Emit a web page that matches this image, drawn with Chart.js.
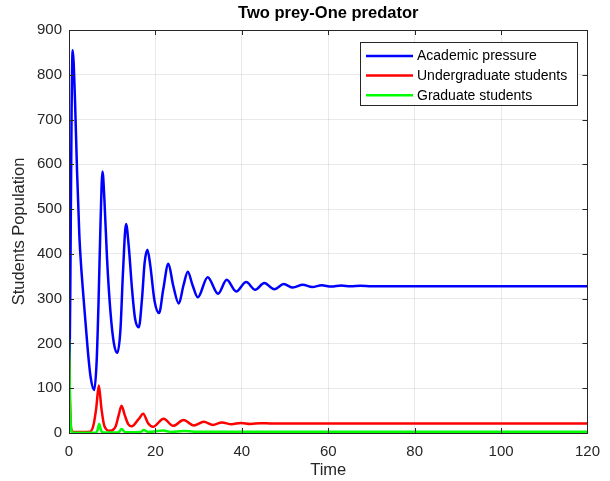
<!DOCTYPE html>
<html>
<head>
<meta charset="utf-8">
<script src="https://cdn.jsdelivr.net/npm/chart.js@4.4.1/dist/chart.umd.min.js"></script>
<style>
    html, body { margin: 0; padding: 0; background: #fff; }
    #wrap { width: 610px; height: 481px; }
</style>
</head>
<body>
<div id="wrap"><canvas id="chart" width="610" height="481"></canvas></div>
<script>
// values (time, population)
const academicTime = [0, 0.3, 0.6, 0.85, 1.4, 1.85, 2.4, 3.4, 4.3, 5.0, 5.84, 6.4, 6.85, 7.3, 7.75, 8.2, 8.8, 9.6, 10.4, 11.2,
    11.9, 12.5, 13.2, 13.8, 14.6, 15.3, 16.15, 16.9, 17.5, 18.15, 18.8, 19.8, 20.85, 21.8, 23, 24.1, 25.4, 26.5, 27.5, 28.6,
    29.8, 32.1, 34.5, 36.5, 38.7, 41, 43.1, 45.2, 47.5, 49.7, 51.8, 54.1, 56.3, 58.5, 60.7, 63, 65.2, 67.5, 70, 120];
const academicPressure = [20, 320, 720, 855, 740, 588, 440, 297, 190, 125, 96, 160, 297, 470, 584, 520, 390, 270, 200, 179,
    230, 360, 467, 420, 320, 255, 236, 300, 380, 409, 375, 295, 268, 320, 378, 330, 289, 330, 360, 330,
    303, 348, 311, 342, 316, 337, 320, 335, 321, 332.5, 325, 331, 326, 330, 327, 329.5, 327.5, 329, 328, 328];

const undergradTime = [0, 0.2, 0.5, 1, 4.8, 5.6, 6.3, 6.9, 7.5, 8.2, 9.5, 10.8, 11.5, 12.15, 12.9, 13.7, 14.5, 16.2, 17.15,
    18.3, 19.45, 21.9, 24.1, 26.5, 28.9, 31.2, 33.3, 35.4, 37.6, 39.8, 42, 44.3, 47, 120];
const undergradStudents = [175, 80, 10, 2, 3, 15, 55, 106, 55, 15, 5, 15, 40, 61, 40, 20, 15, 32, 43,
    22, 14, 32, 16, 29, 17, 25, 18, 23.7, 19.5, 22.5, 20.3, 22, 21, 21];

const gradTime = [0, 0.25, 0.6, 1, 6.2, 6.6, 7.0, 7.4, 7.9, 11.4, 12.2, 13, 16.5, 17.3, 18.3, 21.9, 23.5, 26.6, 29, 120];
const gradStudents = [210, 60, 3, 0.5, 0.5, 6, 20, 6, 1, 1, 9, 1.5, 2, 6.5, 2, 5.5, 2.5, 4.5, 3, 3];

const seriesLabels = ['Academic pressure', 'Undergraduate students', 'Graduate students'];
const seriesColors = ['#0000ff', '#ff0000', '#00ff00'];
const xTicks = [0, 20, 40, 60, 80, 100, 120];
const yTicks = [0, 100, 200, 300, 400, 500, 600, 700, 800, 900];
const chartTitle = 'Two prey-One predator';

const FONT = "'Liberation Sans', Arial, Helvetica, sans-serif";
const AXIS_COLOR = '#262626';
const GRID_COLOR = 'rgba(38,38,38,0.1)';

const toPoints = (xs, ys) => xs.map((x, i) => ({ x: x, y: ys[i] }));

// MATLAB style box with inward ticks, title over the axes, legend inside
const boxPlugin = {
    id: 'boxPlugin',
    afterDraw(chart) {
        const { ctx, chartArea: a, scales } = chart;
        const len = 5;
        ctx.save();
        ctx.strokeStyle = AXIS_COLOR;
        ctx.lineWidth = 1;
        ctx.beginPath();
        xTicks.forEach(t => {
            const px = Math.round(scales.x.getPixelForValue(t)) + 0.5;
            ctx.moveTo(px, a.bottom); ctx.lineTo(px, a.bottom - len);
            ctx.moveTo(px, a.top); ctx.lineTo(px, a.top + len);
        });
        yTicks.forEach(t => {
            const py = Math.round(scales.y.getPixelForValue(t)) + 0.5;
            ctx.moveTo(a.left, py); ctx.lineTo(a.left + len, py);
            ctx.moveTo(a.right, py); ctx.lineTo(a.right - len, py);
        });
        ctx.stroke();
        ctx.strokeRect(Math.round(a.left) + 0.5, Math.round(a.top) + 0.5,
            Math.round(a.right - a.left), Math.round(a.bottom - a.top));

        // title
        ctx.fillStyle = '#000';
        ctx.font = 'bold 16.5px ' + FONT;
        ctx.textAlign = 'center';
        ctx.textBaseline = 'middle';
        ctx.fillText(chartTitle, (a.left + a.right) / 2, 13);

        // legend
        const lx = 360.5, ly = 42.5, lw = 217, lh = 63;
        ctx.fillStyle = '#fff';
        ctx.fillRect(lx, ly, lw, lh);
        ctx.strokeRect(lx, ly, lw, lh);
        ctx.font = '14px ' + FONT;
        ctx.textAlign = 'left';
        chart.data.datasets.forEach((ds, i) => {
            const y = 56 + i * 19.6;
            ctx.strokeStyle = ds.borderColor;
            ctx.lineWidth = 2.5;
            ctx.beginPath();
            ctx.moveTo(366, y); ctx.lineTo(413, y);
            ctx.stroke();
            ctx.fillStyle = '#000';
            ctx.fillText(ds.label, 417, y + 0.5);
        });
        ctx.restore();
    }
};

// later series sit on top, like the original plot
const datasets = [
    toPoints(academicTime, academicPressure),
    toPoints(undergradTime, undergradStudents),
    toPoints(gradTime, gradStudents)
].map((pts, i) => ({
    label: seriesLabels[i],
    data: pts,
    order: 2 - i,
    borderColor: seriesColors[i],
    backgroundColor: seriesColors[i],
    borderWidth: 2.5,
    pointRadius: 0,
    cubicInterpolationMode: 'monotone',
    fill: false
}));

new Chart(document.getElementById('chart'), {
    type: 'line',
    data: { datasets: datasets },
    options: {
        responsive: false,
        animation: false,
        layout: { padding: { left: 0, right: 21, top: 30, bottom: 0 } },
        plugins: {
            legend: { display: false },
            tooltip: { enabled: false },
            title: { display: false }
        },
        scales: {
            x: {
                type: 'linear',
                min: 0,
                max: 120,
                afterFit: s => { s.height = 48; },
                afterBuildTicks: s => { s.ticks = xTicks.map(v => ({ value: v })); },
                ticks: { color: AXIS_COLOR, font: { family: FONT, size: 15 }, padding: 10, maxRotation: 0 },
                grid: { color: GRID_COLOR, drawTicks: false },
                border: { display: false },
                title: {
                    display: true,
                    text: 'Time',
                    color: AXIS_COLOR,
                    font: { family: FONT, size: 16.5 },
                    padding: { top: 1, bottom: 1 }
                }
            },
            y: {
                min: 0,
                max: 900,
                afterFit: s => { s.width = 69; },
                afterBuildTicks: s => { s.ticks = yTicks.map(v => ({ value: v })); },
                ticks: { color: AXIS_COLOR, font: { family: FONT, size: 15 }, padding: 7 },
                grid: { color: GRID_COLOR, drawTicks: false },
                border: { display: false },
                title: {
                    display: true,
                    text: 'Students Population',
                    color: AXIS_COLOR,
                    font: { family: FONT, size: 16.5 },
                    padding: { top: 10, bottom: 10 }
                }
            }
        }
    },
    plugins: [boxPlugin]
});
</script>
</body>
</html>
